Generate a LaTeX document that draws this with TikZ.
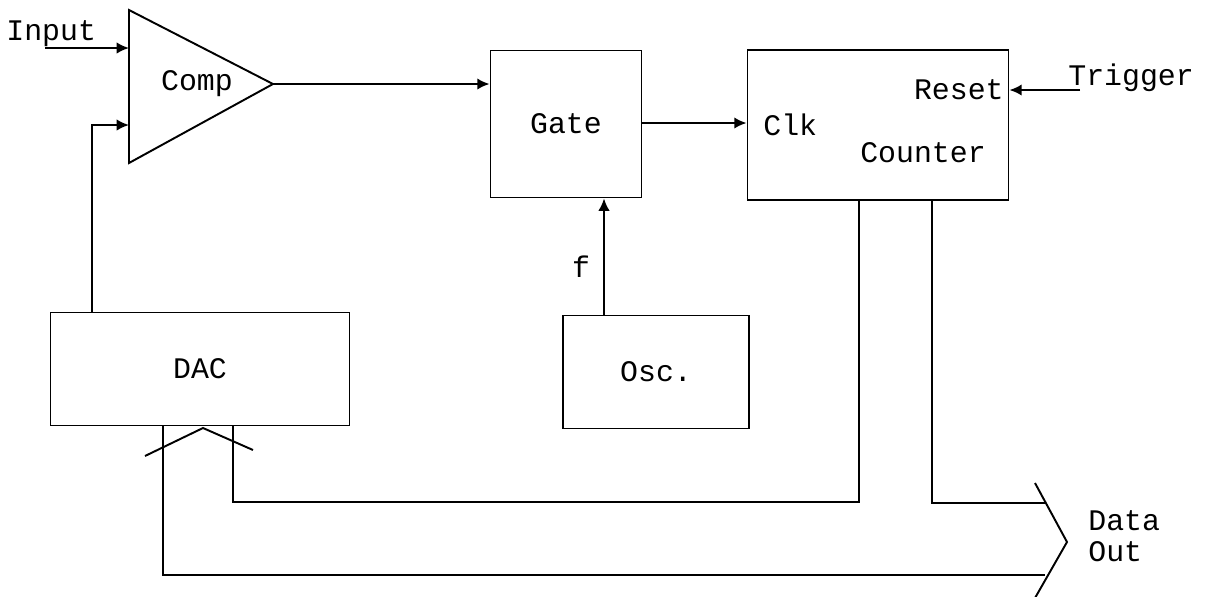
\documentclass[tikz,border=0pt]{standalone}
\usepackage{fontspec}
\setmonofont{Liberation Mono}
\usetikzlibrary{arrows.meta,positioning}

\tikzset{
    block/.style={draw, line width=1.1pt, inner sep=0pt, font=\ttfamily\fontsize{17}{19}\selectfont},
    txt/.style={inner sep=0pt, font=\ttfamily\fontsize{17}{19}\selectfont},
    sig/.style={line width=1.1pt, -{Latex[length=7pt,width=6.5pt]}},
    wire/.style={line width=1.1pt}
}

\begin{document}
\begin{tikzpicture}[x=0.02cm, y=-0.02cm]
    \useasboundingbox (0,0) rectangle (1211,596);

    % comparator
    \coordinate (cin1) at (129,48);
    \coordinate (cin2) at (129,125);
    \coordinate (cout) at (273,84);
    \draw [wire, line join=miter] (129,10) -- (cout) -- (129,163) -- cycle;
    \node [txt] (comp) at (197,84) {Comp};
    \node [txt, anchor=west] (input) at (6,34) {Input};
    \coordinate (inend) at (45,48);

    % blocks
    \node [block, minimum width=3.02cm, minimum height=2.94cm] (gate) at (566,124) {Gate};
    \node [block, minimum width=5.22cm, minimum height=3cm] (counter) at (878,125) {};
    \node [block, minimum width=3.72cm, minimum height=2.26cm] (osc) at (656,372) {Osc.};
    \node [block, minimum width=5.98cm, minimum height=2.26cm] (dac) at (200,369) {DAC};

    \node [txt, anchor=west] (clk) at (763,125) {Clk};
    \node [txt, anchor=east] (reset) at (1004,90) {Reset};
    \node [txt] (cnt) at (923,153) {Counter};
    \node [txt, anchor=west] (trig) at (1068,78) {Trigger};
    \node [txt] (f) at (581,267) {f};
    \node [txt, anchor=west] (data) at (1088,521) {Data};
    \node [txt, anchor=west] (out) at (1088,552) {Out};

    % signals
    \draw [sig] (inend) -- (cin1);
    \draw [sig] (dac.north -| 92,0) |- (cin2);
    \draw [sig] (cout) -- (cout -| gate.west);
    \draw [sig] (gate.east |- 0,123) -- (counter.west |- 0,123);
    \draw [sig] (1080,90) -- (counter.east |- 0,90);
    \draw [sig] (osc.north -| 604,0) -- (gate.south -| 604,0);

    % buses
    \coordinate (dacbus) at (203,428);
    \draw [wire] (145,456) -- (dacbus) -- (253,450);
    \coordinate (outbus) at (1067,542);
    \draw [wire] (1035,483) -- (outbus) -- (1035,598);
    \draw [wire] (counter.south -| 859,0) |- (233,502) -- (dac.south -| 233,0);
    \draw [wire] (counter.south -| 932,0) |- (1045,503);
    \draw [wire] (dac.south -| 163,0) |- (1045,575);
\end{tikzpicture}
\end{document}
